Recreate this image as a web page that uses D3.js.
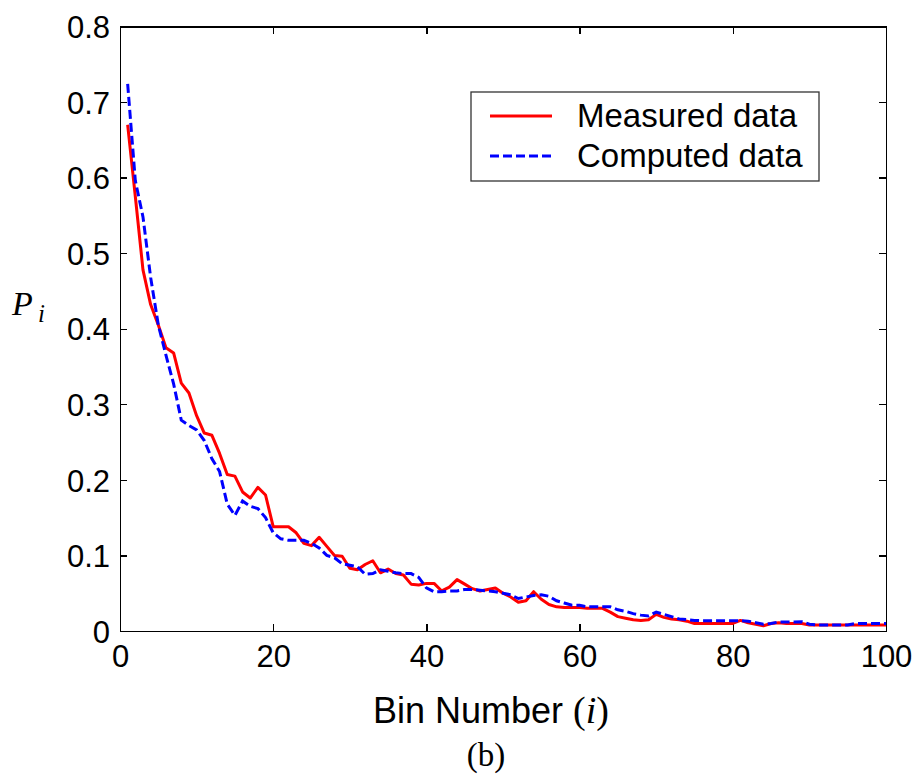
<!DOCTYPE html>
<html>
<head>
<meta charset="utf-8">
<script src="https://cdn.jsdelivr.net/npm/d3@7/dist/d3.min.js"></script>
<style>
  html, body { margin: 0; padding: 0; background: #fff; }
  svg { display: block; }
  .axis text { font-family: "Liberation Sans", Arial, sans-serif; font-size: 31px; fill: #000; }
  .axis path, .axis line { stroke: #000; stroke-width: 1.3px; shape-rendering: crispEdges; }
</style>
</head>
<body>
<svg id="chart" width="919" height="774"></svg>
<script>
// Bin index 1..100
const bins = d3.range(1, 101);

// Measured probability per bin
const measured = [
  0.670, 0.575, 0.478, 0.432, 0.405, 0.375, 0.368, 0.328, 0.315, 0.285,
  0.262, 0.259, 0.235, 0.207, 0.205, 0.184, 0.176, 0.190, 0.180, 0.138,
  0.138, 0.138, 0.130, 0.116, 0.113, 0.124, 0.112, 0.100, 0.099, 0.083,
  0.081, 0.088, 0.093, 0.077, 0.082, 0.076, 0.074, 0.062, 0.061, 0.063,
  0.063, 0.053, 0.058, 0.068, 0.062, 0.056, 0.053, 0.055, 0.057, 0.050,
  0.045, 0.038, 0.040, 0.052, 0.042, 0.035, 0.032, 0.031, 0.031, 0.031,
  0.030, 0.030, 0.030, 0.025, 0.019, 0.017, 0.015, 0.014, 0.015, 0.022,
  0.018, 0.016, 0.015, 0.013, 0.010, 0.010, 0.010, 0.010, 0.010, 0.010,
  0.014, 0.011, 0.009, 0.007, 0.010, 0.011, 0.010, 0.010, 0.010, 0.008,
  0.008, 0.008, 0.008, 0.008, 0.008, 0.008, 0.008, 0.008, 0.008, 0.008
];

// Computed probability per bin
const computed = [
  0.724, 0.596, 0.548, 0.468, 0.405, 0.365, 0.327, 0.279, 0.272, 0.266,
  0.252, 0.228, 0.211, 0.168, 0.153, 0.172, 0.165, 0.162, 0.150, 0.130,
  0.122, 0.120, 0.120, 0.120, 0.116, 0.110, 0.100, 0.097, 0.089, 0.087,
  0.085, 0.075, 0.076, 0.081, 0.079, 0.077, 0.076, 0.076, 0.071, 0.057,
  0.052, 0.052, 0.053, 0.053, 0.055, 0.055, 0.054, 0.053, 0.052, 0.050,
  0.048, 0.043, 0.045, 0.047, 0.048, 0.046, 0.040, 0.037, 0.034, 0.034,
  0.032, 0.032, 0.032, 0.032, 0.028, 0.026, 0.023, 0.021, 0.020, 0.025,
  0.022, 0.019, 0.016, 0.015, 0.014, 0.0136, 0.0136, 0.0136, 0.0136, 0.0136,
  0.0136, 0.013, 0.011, 0.009, 0.010, 0.012, 0.012, 0.012, 0.0123, 0.009,
  0.008, 0.008, 0.008, 0.008, 0.008, 0.010, 0.010, 0.010, 0.010, 0.010
];

const xTicks = [0, 20, 40, 60, 80, 100];
const yTicks = [0, 0.1, 0.2, 0.3, 0.4, 0.5, 0.6, 0.7, 0.8];
const seriesNames = ["Measured data", "Computed data"];
const seriesColors = ["#ff0000", "#0000ff"];

const svg = d3.select("#chart");
const plotLeft = 120, plotRight = 886, plotTop = 26.5, plotBottom = 631;

const x = d3.scaleLinear().domain([0, 100]).range([plotLeft, plotRight]);
const y = d3.scaleLinear().domain([0, 0.8]).range([plotBottom, plotTop]);

// Axes: box with inward ticks on all four sides
const gBottom = svg.append("g").attr("class", "axis")
  .attr("transform", `translate(0,${plotBottom})`)
  .call(d3.axisBottom(x).tickValues(xTicks).tickSize(-7).tickSizeOuter(0).tickPadding(12)
    .tickFormat(d3.format("d")));
gBottom.selectAll(".tick text").attr("y", 36).attr("dy", null);

svg.append("g").attr("class", "axis")
  .attr("transform", `translate(0,${plotTop})`)
  .call(d3.axisTop(x).tickValues(xTicks).tickSize(-7).tickSizeOuter(0).tickFormat(""));

const gLeft = svg.append("g").attr("class", "axis")
  .attr("transform", `translate(${plotLeft},0)`)
  .call(d3.axisLeft(y).tickValues(yTicks).tickSize(-7).tickSizeOuter(0).tickPadding(10)
    .tickFormat(d => d === 0 ? "0" : d3.format(".1f")(d)));
gLeft.selectAll(".tick text").attr("dy", "0.36em");

svg.append("g").attr("class", "axis")
  .attr("transform", `translate(${plotRight},0)`)
  .call(d3.axisRight(y).tickValues(yTicks).tickSize(-7).tickSizeOuter(0).tickFormat(""));

// Data lines
const line = d3.line().x((d, i) => x(bins[i])).y(d => y(d));

svg.append("path")
  .datum(measured)
  .attr("fill", "none")
  .attr("stroke", seriesColors[0])
  .attr("stroke-width", 3)
  .attr("stroke-linejoin", "round")
  .attr("d", line);

svg.append("path")
  .datum(computed)
  .attr("fill", "none")
  .attr("stroke", seriesColors[1])
  .attr("stroke-width", 3)
  .attr("stroke-dasharray", "9,4")
  .attr("d", line);

// Legend
const lg = svg.append("g");
lg.append("rect")
  .attr("x", 471).attr("y", 92).attr("width", 348).attr("height", 89)
  .attr("fill", "#fff").attr("stroke", "#333").attr("stroke-width", 1.3);
seriesNames.forEach((name, i) => {
  const yy = 116 + i * 40;
  lg.append("line")
    .attr("x1", 490).attr("x2", 552).attr("y1", yy).attr("y2", yy)
    .attr("stroke", seriesColors[i]).attr("stroke-width", 3)
    .attr("stroke-dasharray", i === 1 ? "9,4" : null);
  lg.append("text")
    .attr("x", 577).attr("y", yy + 11)
    .attr("font-family", "'Liberation Sans', Arial, sans-serif")
    .attr("font-size", 33)
    .text(name);
});

// Axis titles
const serif = "'Liberation Serif', 'Times New Roman', serif";
const xt = svg.append("text")
  .attr("x", 491).attr("y", 723)
  .attr("text-anchor", "middle")
  .attr("font-size", 36)
  .attr("font-family", "'Liberation Sans', Arial, sans-serif");
xt.append("tspan").text("Bin Number ");
xt.append("tspan").attr("font-family", serif).attr("font-size", 38).text("(");
xt.append("tspan").attr("font-family", serif).attr("font-size", 38).attr("font-style", "italic").text("i");
xt.append("tspan").attr("font-family", serif).attr("font-size", 38).text(")");

const yt = svg.append("text")
  .attr("x", 12).attr("y", 315)
  .attr("font-family", serif)
  .attr("font-style", "italic");
yt.append("tspan").attr("font-size", 34).text("P");
yt.append("tspan").attr("x", 38).attr("y", 322).attr("font-size", 25).text("i");

svg.append("text")
  .attr("x", 486).attr("y", 766)
  .attr("text-anchor", "middle")
  .attr("font-family", serif)
  .attr("font-size", 33)
  .text("(b)");
</script>
</body>
</html>
